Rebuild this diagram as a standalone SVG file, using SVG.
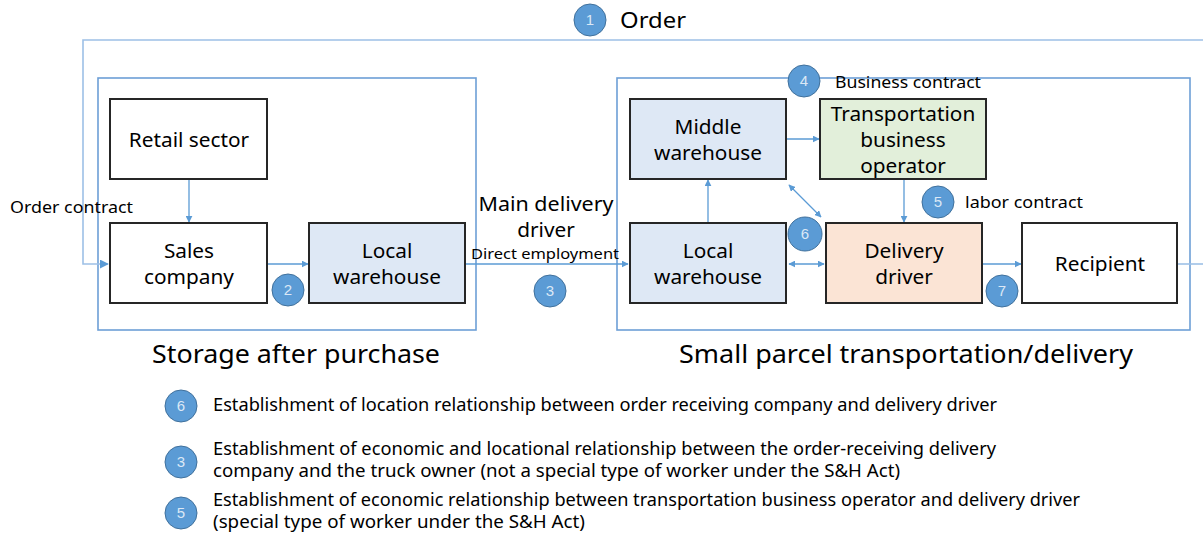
<svg xmlns="http://www.w3.org/2000/svg" width="1203" height="534" viewBox="0 0 1203 534">
<defs>
<marker id="ah" viewBox="0 0 10 10" refX="9" refY="5" markerWidth="7" markerHeight="7" orient="auto-start-reverse" markerUnits="userSpaceOnUse">
<path d="M0,0 L10,5 L0,10 z" fill="#5b9bd5"/>
</marker>
<marker id="ahb" viewBox="0 0 10 10" refX="9" refY="5" markerWidth="9" markerHeight="9" orient="auto-start-reverse" markerUnits="userSpaceOnUse">
<path d="M0,0 L10,5 L0,10 z" fill="#5b9bd5"/>
</marker>
</defs>
<style>
text{font-family:"Noto Sans","Liberation Sans",sans-serif;fill:#000}
.box{stroke:#262626;stroke-width:2}
.white{fill:#fff}
.blue{fill:#dee8f5}
.green{fill:#e2efda}
.orange{fill:#fbe4d5}
.cont{fill:none;stroke:#6d9fd6;stroke-width:1.6}
.ln{fill:none;stroke:#5b9bd5;stroke-width:1.3}
.ord{fill:none;stroke:#9dc0e6;stroke-width:1.6}
.nt{font-size:20.8px;text-anchor:middle}
.c{fill:#5b9bd5;stroke:#41719c;stroke-width:1}
.cn{font-family:"Liberation Sans",sans-serif;font-size:15px;fill:#dbe8f6;text-anchor:middle}
.lbl{font-size:17px}
.title{font-size:26px;text-anchor:middle}
.leg{font-size:17.5px}
</style>

<g id="containers">
<rect class="cont" x="98" y="78" width="378" height="252"/>
<rect class="cont" x="617" y="78" width="573" height="252"/>
</g>

<g id="connectors">
<path class="ord" d="M1203,40 H83 V264 H108" marker-end="url(#ahb)"/>
<path class="ord" d="M1177,264 H1203"/>
<path class="ln" d="M189,179 V222" marker-end="url(#ah)"/>
<path class="ln" d="M267,264 H308" marker-end="url(#ah)"/>
<path class="ln" d="M465,264 H628" marker-end="url(#ah)"/>
<path class="ln" d="M708,223 V180" marker-end="url(#ah)"/>
<path class="ln" d="M786,139 H819" marker-end="url(#ah)"/>
<path class="ln" d="M904,179 V222" marker-end="url(#ah)"/>
<path class="ln" d="M789,264 H824" marker-start="url(#ah)" marker-end="url(#ah)"/>
<path class="ln" d="M789,185 L821,217" marker-start="url(#ah)" marker-end="url(#ah)"/>
<path class="ln" d="M982,264 H1021" marker-end="url(#ah)"/>
</g>

<g id="retail-sector">
<rect class="box white" x="110" y="99" width="157" height="80"/>
<text class="nt" x="189" y="147">Retail sector</text>
</g>
<g id="sales-company">
<rect class="box white" x="110" y="223" width="157" height="80"/>
<text class="nt" x="189" y="258">Sales</text>
<text class="nt" x="189" y="284">company</text>
</g>
<g id="local-warehouse-1">
<rect class="box blue" x="309" y="223" width="156" height="80"/>
<text class="nt" x="387" y="258">Local</text>
<text class="nt" x="387" y="284">warehouse</text>
</g>
<g id="middle-warehouse">
<rect class="box blue" x="630" y="99" width="156" height="80"/>
<text class="nt" x="708" y="134">Middle</text>
<text class="nt" x="708" y="160">warehouse</text>
</g>
<g id="transport-operator">
<rect class="box green" x="820" y="99" width="166" height="80"/>
<text class="nt" x="903" y="121">Transportation</text>
<text class="nt" x="903" y="147">business</text>
<text class="nt" x="903" y="173">operator</text>
</g>
<g id="local-warehouse-2">
<rect class="box blue" x="630" y="223" width="156" height="80"/>
<text class="nt" x="708" y="258">Local</text>
<text class="nt" x="708" y="284">warehouse</text>
</g>
<g id="delivery-driver">
<rect class="box orange" x="826" y="223" width="156" height="80"/>
<text class="nt" x="904" y="258">Delivery</text>
<text class="nt" x="904" y="284">driver</text>
</g>
<g id="recipient">
<rect class="box white" x="1022" y="223" width="155" height="80"/>
<text class="nt" x="1100" y="271">Recipient</text>
</g>

<g id="labels">
<circle class="c" cx="590" cy="20" r="16"/><text class="cn" x="590" y="25">1</text>
<text x="620" y="28" style="font-size:22px" textLength="66" lengthAdjust="spacingAndGlyphs">Order</text>
<text class="lbl" x="10" y="213" textLength="123" lengthAdjust="spacingAndGlyphs">Order contract</text>
<circle class="c" cx="288" cy="290" r="16"/><text class="cn" x="288" y="295">2</text>
<text class="nt" x="546" y="211" textLength="135" lengthAdjust="spacingAndGlyphs">Main delivery</text>
<text class="nt" x="546" y="237">driver</text>
<text x="545" y="259" style="font-size:15px;text-anchor:middle" textLength="148" lengthAdjust="spacingAndGlyphs">Direct employment</text>
<circle class="c" cx="550" cy="291" r="16"/><text class="cn" x="550" y="296">3</text>
<circle class="c" cx="804" cy="81" r="16"/><text class="cn" x="804" y="86">4</text>
<text class="lbl" x="835" y="88" textLength="146" lengthAdjust="spacingAndGlyphs">Business contract</text>
<circle class="c" cx="938" cy="202" r="16"/><text class="cn" x="938" y="207">5</text>
<text class="lbl" x="965" y="208" textLength="118" lengthAdjust="spacingAndGlyphs">labor contract</text>
<circle class="c" cx="805" cy="234" r="17"/><text class="cn" x="805" y="239">6</text>
<circle class="c" cx="1002" cy="291" r="16"/><text class="cn" x="1002" y="296">7</text>
<text class="title" x="296" y="363" textLength="288" lengthAdjust="spacingAndGlyphs">Storage after purchase</text>
<text class="title" x="906" y="363" textLength="454" lengthAdjust="spacingAndGlyphs">Small parcel transportation/delivery</text>
</g>

<g id="legend">
<circle class="c" cx="181" cy="406" r="16"/><text class="cn" x="181" y="411">6</text>
<text class="leg" x="213" y="411" textLength="784" lengthAdjust="spacingAndGlyphs">Establishment of location relationship between order receiving company and delivery driver</text>
<circle class="c" cx="181" cy="462" r="16"/><text class="cn" x="181" y="467">3</text>
<text class="leg" x="213" y="455" textLength="783" lengthAdjust="spacingAndGlyphs">Establishment of economic and locational relationship between the order-receiving delivery</text>
<text class="leg" x="213" y="477" textLength="687" lengthAdjust="spacingAndGlyphs">company and the truck owner (not a special type of worker under the S&amp;H Act)</text>
<circle class="c" cx="181" cy="513" r="16"/><text class="cn" x="181" y="518">5</text>
<text class="leg" x="213" y="506" textLength="867" lengthAdjust="spacingAndGlyphs">Establishment of economic relationship between transportation business operator and delivery driver</text>
<text class="leg" x="213" y="528" textLength="372" lengthAdjust="spacingAndGlyphs">(special type of worker under the S&amp;H Act)</text>
</g>
</svg>
